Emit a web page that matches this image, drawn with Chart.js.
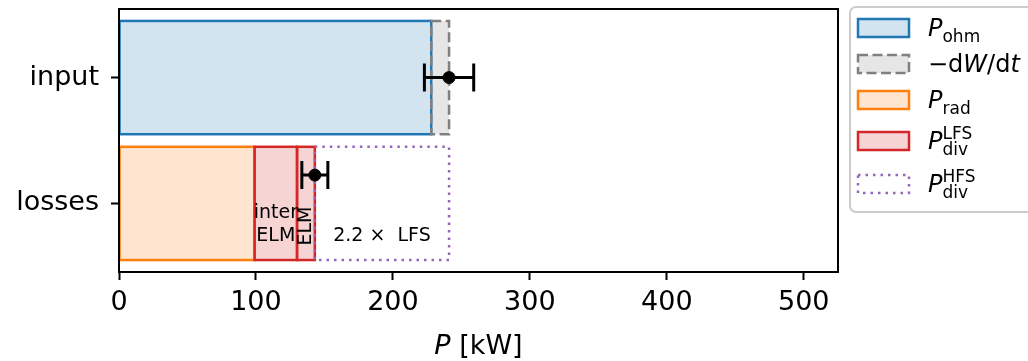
<!DOCTYPE html>
<html>
<head>
<meta charset="utf-8">
<script src="https://cdn.jsdelivr.net/npm/chart.js@4"></script>
<style>
  html, body { margin: 0; padding: 0; background: #fff; }
</style>
</head>
<body>
<canvas id="powerChart" width="1028" height="361"></canvas>
<script>
// rows of the barh plot (top to bottom)
const categories = ['input', 'losses'];

// input side, start/end in kW
const pOhm = [0, 228];
const dWdt = [228, 241];

// loss side, start/end in kW
const pRad = [0, 99];
const pDivLfsInter = [99, 130];
const pDivLfsElm = [130, 143];
const pDivHfs = [143, 241];

// measured totals with error bars
const errCenter = [241, 143];
const errHalfWidth = [18, 9.5];
const errRow = [0, 0.775];

const xTicks = [0, 100, 200, 300, 400, 500];

const FONT = "'DejaVu Sans', sans-serif";

// legend texts, pieces: [text, style]
const legendOhm = [['P', 'i'], ['ohm', 'sub']];
const legendDwdt = [['\u2212d', 'n'], ['W', 'i'], ['/d', 'n'], ['t', 'i']];
const legendRad = [['P', 'i'], ['rad', 'sub']];
const legendLfs = [['P', 'i'], ['div', 'sub'], ['LFS', 'sup']];
const legendHfs = [['P', 'i'], ['div', 'sub'], ['HFS', 'sup']];

function barSet(range, row, fill, edge, dash, legend) {
    return {
        type: 'bar',
        data: [{ x: range, y: categories.indexOf(row) }],
        backgroundColor: fill,
        borderWidth: 0,
        grouped: false,
        categoryPercentage: 1,
        barPercentage: 0.9,
        edgeColor: edge,
        edgeDash: dash,
        legendText: legend
    };
}

let datasets = [
    barSet(pOhm, 'input', 'rgba(31,119,180,0.2)', '#1f77b4', null, legendOhm),
    barSet(dWdt, 'input', 'rgba(128,128,128,0.2)', '#808080', [10, 4.5], legendDwdt),
    barSet(pRad, 'losses', 'rgba(255,127,14,0.2)', '#ff7f0e', null, legendRad),
    barSet(pDivLfsInter, 'losses', 'rgba(214,39,40,0.2)', '#d62728', null, legendLfs),
    barSet(pDivLfsElm, 'losses', 'rgba(214,39,40,0.2)', '#d62728', null, null),
    barSet(pDivHfs, 'losses', 'rgba(0,0,0,0)', '#9467bd', [2.5, 5], legendHfs)
];
// first dataset at the bottom
datasets.forEach((d, i) => { d.order = 20 - i; });

datasets.push({
    type: 'line',
    data: errCenter.map((c, i) => ({ x: c, y: errRow[i] })),
    showLine: false,
    pointRadius: 6,
    pointBackgroundColor: '#000',
    pointBorderColor: '#000',
    order: 0
});

// text written inside the losses bar
const annotations = [
    { lines: ['inter', 'ELM'], x: (pDivLfsInter[0] + pDivLfsInter[1]) / 2, y: 1.17, rotate: false },
    { lines: ['ELM'], x: (pDivLfsElm[0] + pDivLfsElm[1]) / 2, y: 1.18, rotate: true },
    { lines: ['2.2 \u00d7  LFS'], x: (pDivHfs[0] + pDivHfs[1]) / 2, y: 1.26, rotate: false }
];

const barEdges = {
    id: 'barEdges',
    afterDatasetDraw(chart, args) {
        const ds = chart.data.datasets[args.index];
        if (!ds.edgeColor) return;
        const ctx = chart.ctx, a = chart.chartArea;
        ctx.save();
        ctx.beginPath();
        ctx.rect(a.left, a.top, a.right - a.left, a.bottom - a.top);
        ctx.clip();
        ctx.strokeStyle = ds.edgeColor;
        ctx.lineWidth = 2.5;
        ctx.setLineDash(ds.edgeDash || []);
        args.meta.data.forEach(bar => {
            const p = bar.getProps(['x', 'y', 'base', 'height'], true);
            const left = Math.min(p.x, p.base), right = Math.max(p.x, p.base);
            ctx.strokeRect(left, p.y - p.height / 2, right - left, p.height);
        });
        ctx.restore();
    }
};

const frameAndErrors = {
    id: 'frameAndErrors',
    afterDatasetsDraw(chart) {
        const ctx = chart.ctx, a = chart.chartArea;
        const x = chart.scales.x, y = chart.scales.y;
        ctx.save();
        ctx.strokeStyle = '#000';
        ctx.lineWidth = 2;
        ctx.strokeRect(a.left, a.top, a.right - a.left, a.bottom - a.top);

        ctx.lineWidth = 3;
        errCenter.forEach((c, i) => {
            const lo = x.getPixelForValue(c - errHalfWidth[i]);
            const hi = x.getPixelForValue(c + errHalfWidth[i]);
            const py = y.getPixelForValue(errRow[i]);
            ctx.beginPath();
            ctx.moveTo(lo, py); ctx.lineTo(hi, py);
            ctx.moveTo(lo, py - 14); ctx.lineTo(lo, py + 14);
            ctx.moveTo(hi, py - 14); ctx.lineTo(hi, py + 14);
            ctx.stroke();
        });
        ctx.restore();
    }
};

function drawPieces(ctx, pieces, x0, base, size) {
    let x = x0, subStart = null, subEnd = 0;
    pieces.forEach(([text, style]) => {
        let font = size + 'px ' + FONT, dy = 0;
        if (style === 'i') font = 'italic ' + font;
        if (style === 'sub') { font = Math.round(size * 0.7) + 'px ' + FONT; dy = 6; }
        if (style === 'sup') { font = Math.round(size * 0.7) + 'px ' + FONT; dy = -10; }
        ctx.font = font;
        const w = ctx.measureText(text).width;
        if (style === 'sup' && subStart !== null) {
            ctx.fillText(text, subStart, base + dy);
            x = Math.max(subEnd, subStart + w);
            return;
        }
        if (style === 'sub') { subStart = x; subEnd = x + w; }
        ctx.fillText(text, x, base + dy);
        x += w;
    });
}

const textLayer = {
    id: 'textLayer',
    afterDraw(chart) {
        const ctx = chart.ctx, a = chart.chartArea;
        const x = chart.scales.x, y = chart.scales.y;
        ctx.save();
        ctx.fillStyle = '#000';
        ctx.textBaseline = 'middle';
        ctx.textAlign = 'center';

        // annotations in data coordinates
        ctx.font = '19px ' + FONT;
        annotations.forEach(an => {
            const px = x.getPixelForValue(an.x), py = y.getPixelForValue(an.y);
            if (an.rotate) {
                ctx.save();
                ctx.translate(px, py);
                ctx.rotate(-Math.PI / 2);
                ctx.fillText(an.lines[0], 0, 0);
                ctx.restore();
            } else {
                an.lines.forEach((line, k) => {
                    ctx.fillText(line, px, py + (k - (an.lines.length - 1) / 2) * 23);
                });
            }
        });

        // x axis title: P [kW]
        ctx.textAlign = 'left';
        ctx.textBaseline = 'alphabetic';
        ctx.font = 'italic 27px ' + FONT;
        const wP = ctx.measureText('P').width;
        ctx.font = '27px ' + FONT;
        const wRest = ctx.measureText(' [kW]').width;
        const tx = (a.left + a.right) / 2 - (wP + wRest) / 2;
        ctx.font = 'italic 27px ' + FONT;
        ctx.fillText('P', tx, 354);
        ctx.font = '27px ' + FONT;
        ctx.fillText(' [kW]', tx + wP, 354);

        // legend box
        ctx.beginPath();
        ctx.roundRect(850, 7, 200, 205, 6);
        ctx.fillStyle = 'rgba(255,255,255,0.8)';
        ctx.fill();
        ctx.strokeStyle = '#cccccc';
        ctx.lineWidth = 2;
        ctx.stroke();

        const rows = [28, 64, 100, 141, 184];
        const entries = chart.data.datasets.filter(d => d.legendText);
        entries.forEach((d, i) => {
            const cy = rows[i];
            ctx.fillStyle = d.backgroundColor;
            ctx.fillRect(858, cy - 9, 51, 18);
            ctx.strokeStyle = d.edgeColor;
            ctx.lineWidth = 2.5;
            ctx.setLineDash(d.edgeDash || []);
            ctx.strokeRect(858, cy - 9, 51, 18);
            ctx.setLineDash([]);
            ctx.fillStyle = '#000';
            drawPieces(ctx, d.legendText, 928, cy + 8, 24);
        });
        ctx.restore();
    }
};

const tickFont = { family: FONT, size: 27 };

new Chart(document.getElementById('powerChart'), {
    type: 'bar',
    data: { datasets: datasets },
    plugins: [barEdges, frameAndErrors, textLayer],
    options: {
        indexAxis: 'y',
        responsive: false,
        animation: false,
        layout: { padding: { top: 9, right: 190, left: 0, bottom: 0 } },
        plugins: { legend: { display: false }, tooltip: { enabled: false } },
        scales: {
            x: {
                type: 'linear',
                min: 0,
                max: 525,
                afterBuildTicks: s => { s.ticks = xTicks.map(v => ({ value: v })); },
                afterFit: s => { s.height = 89; s.paddingLeft = 0; s.paddingRight = 0; },
                ticks: { font: tickFont, color: '#000', padding: 7, maxRotation: 0 },
                grid: { drawOnChartArea: false, tickLength: 8, tickWidth: 2, tickColor: '#000' },
                border: { display: false }
            },
            y: {
                type: 'linear',
                min: -0.545,
                max: 1.545,
                reverse: true,
                offset: false,
                afterBuildTicks: s => { s.ticks = categories.map((c, i) => ({ value: i })); },
                afterFit: s => { s.width = 119; s.paddingTop = 0; s.paddingBottom = 0; },
                ticks: { callback: v => categories[v], font: tickFont, color: '#000', padding: 12 },
                grid: { drawOnChartArea: false, offset: false, tickLength: 8, tickWidth: 2, tickColor: '#000' },
                border: { display: false }
            }
        }
    }
});
</script>
</body>
</html>
